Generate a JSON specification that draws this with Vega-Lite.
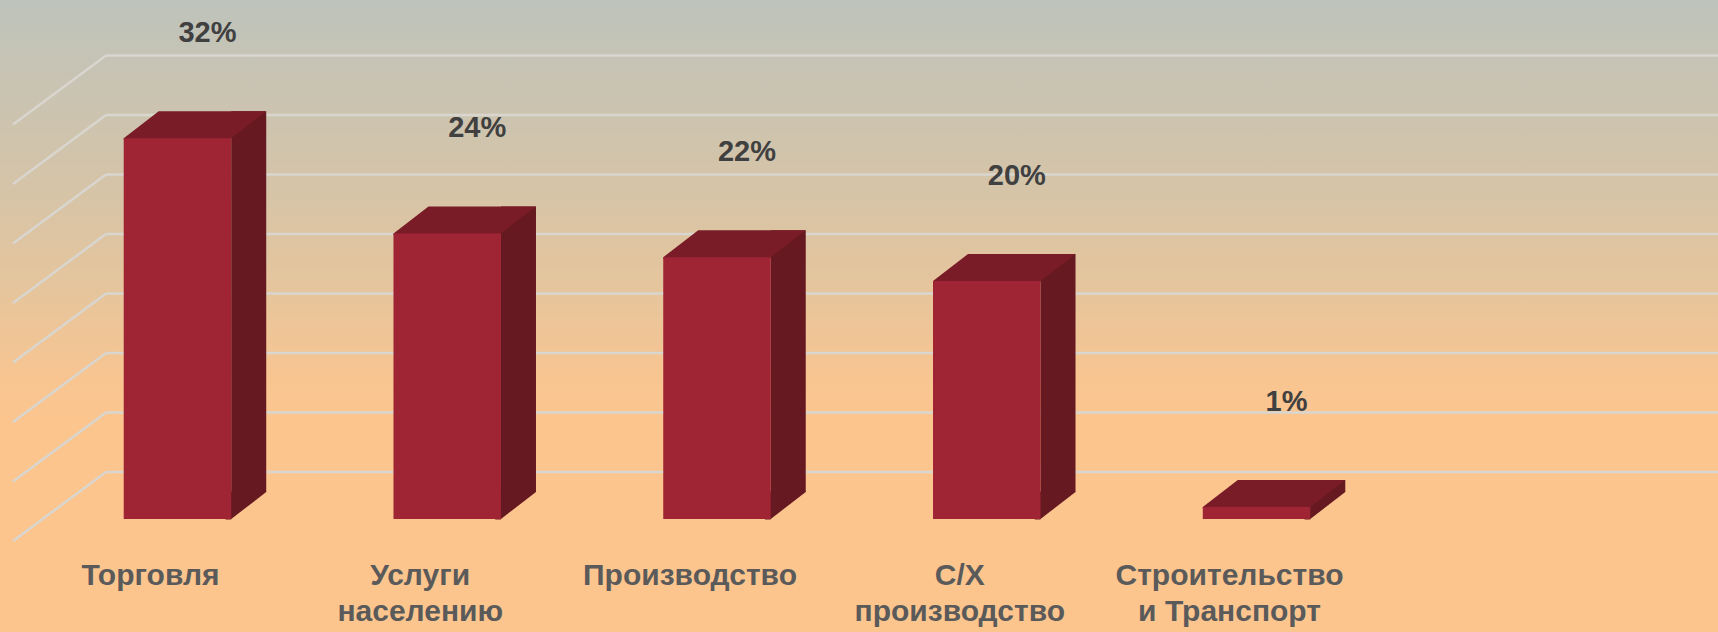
{
  "$schema": "https://vega.github.io/schema/vega-lite/v6.json",
  "width": 1718,
  "height": 632,
  "padding": 0,
  "autosize": {"type": "none"},
  "background": "#fcc58e",
  "config": {"view": {"stroke": null}},
  "data": {
    "values": [
      {"cat": "Торговля", "label": "Торговля", "value": 0.32},
      {"cat": "Услуги населению", "label": "Услуги\nнаселению", "value": 0.24},
      {"cat": "Производство", "label": "Производство", "value": 0.22},
      {"cat": "С/Х производство", "label": "С/Х\nпроизводство", "value": 0.20},
      {"cat": "Строительство и Транспорт", "label": "Строительство\nи Транспорт", "value": 0.01}
    ]
  },
  "layer": [
    {
      "data": {"values": [{"bg": 1}]},
      "mark": {
        "type": "rect",
        "color": {
          "gradient": "linear", "x1": 0, "y1": 0, "x2": 0, "y2": 1,
          "stops": [
            {"offset": 0, "color": "#bec3bb"},
            {"offset": 0.28, "color": "#d4c4a9"},
            {"offset": 0.46, "color": "#e6c59c"},
            {"offset": 0.6, "color": "#f8c591"},
            {"offset": 0.68, "color": "#fcc58e"},
            {"offset": 1, "color": "#fcc58e"}
          ]
        }
      },
      "encoding": {
        "x": {"value": 0},
        "x2": {"value": 1718},
        "y": {"value": 0},
        "y2": {"value": 632}
      }
    },
    {
      "data": {"values": [{"g": 0}, {"g": 0.05}, {"g": 0.10}, {"g": 0.15}, {"g": 0.20}, {"g": 0.25}, {"g": 0.30}, {"g": 0.35}]},
      "mark": {"type": "rule", "color": "#d9d6d0", "strokeWidth": 2.5, "yOffset": -47},
      "encoding": {
        "x": {"value": 106},
        "x2": {"value": 1718},
        "y": {"field": "g", "type": "quantitative", "scale": {"domain": [-0.09496, 0.43613], "nice": false, "zero": false}, "axis": null}
      }
    },
    {
      "data": {"values": [{"g": 0}, {"g": 0.05}, {"g": 0.10}, {"g": 0.15}, {"g": 0.20}, {"g": 0.25}, {"g": 0.30}, {"g": 0.35}]},
      "mark": {"type": "rule", "color": "#d9d6d0", "strokeWidth": 2.5, "yOffset": -47, "y2Offset": 22},
      "encoding": {
        "x": {"value": 106},
        "x2": {"value": 13},
        "y": {"field": "g", "type": "quantitative", "axis": null},
        "y2": {"field": "g"}
      }
    },
    {
      "mark": {"type": "bar", "color": "#661921", "width": 35, "xOffset": 71.25, "yOffset": -27},
      "encoding": {
        "x": {"field": "cat", "type": "nominal", "sort": null, "scale": {"paddingInner": 0.6015, "paddingOuter": 0.985, "align": 0.2328}, "axis": null},
        "y": {"field": "value", "type": "quantitative", "axis": null}
      }
    },
    {
      "mark": {"type": "point", "filled": true, "opacity": 1, "strokeWidth": 0, "size": 4, "color": "#661921", "shape": "M48,-27.5L48,0.5L53.75,0.5L53.75,0L88.75,-27L88.75,-27.5Z"},
      "encoding": {
        "x": {"field": "cat", "type": "nominal", "sort": null, "axis": null},
        "y": {"datum": 0, "type": "quantitative", "axis": null}
      }
    },
    {
      "mark": {"type": "point", "filled": true, "opacity": 1, "strokeWidth": 0, "size": 4, "color": "#7a1c27", "shape": "M-53.75,1.5L53.75,1.5L53.75,0L88.75,-27L-18.75,-27L-53.75,0Z"},
      "encoding": {
        "x": {"field": "cat", "type": "nominal", "sort": null, "axis": null},
        "y": {"field": "value", "type": "quantitative", "axis": null}
      }
    },
    {
      "mark": {"type": "bar", "color": "#9f2434", "width": 107.5},
      "encoding": {
        "x": {"field": "cat", "type": "nominal", "sort": null, "axis": null},
        "y": {"field": "value", "type": "quantitative", "axis": null}
      }
    },
    {
      "mark": {"type": "text", "font": "Liberation Sans", "fontWeight": "bold", "fontSize": 29, "color": "#404040", "align": "center", "baseline": "alphabetic", "dx": 30, "dy": -96},
      "encoding": {
        "x": {"field": "cat", "type": "nominal", "sort": null, "axis": null},
        "y": {"field": "value", "type": "quantitative", "axis": null},
        "text": {"field": "value", "type": "quantitative", "format": ".0%"}
      }
    },
    {
      "mark": {"type": "text", "font": "Liberation Sans", "fontWeight": "bold", "fontSize": 30, "color": "#5a5a5a", "align": "center", "baseline": "alphabetic", "dx": -27, "dy": 66, "lineBreak": "\n", "lineHeight": 36},
      "encoding": {
        "x": {"field": "cat", "type": "nominal", "sort": null, "axis": null},
        "y": {"datum": 0, "type": "quantitative", "axis": null},
        "text": {"field": "label", "type": "nominal"}
      }
    }
  ]
}
